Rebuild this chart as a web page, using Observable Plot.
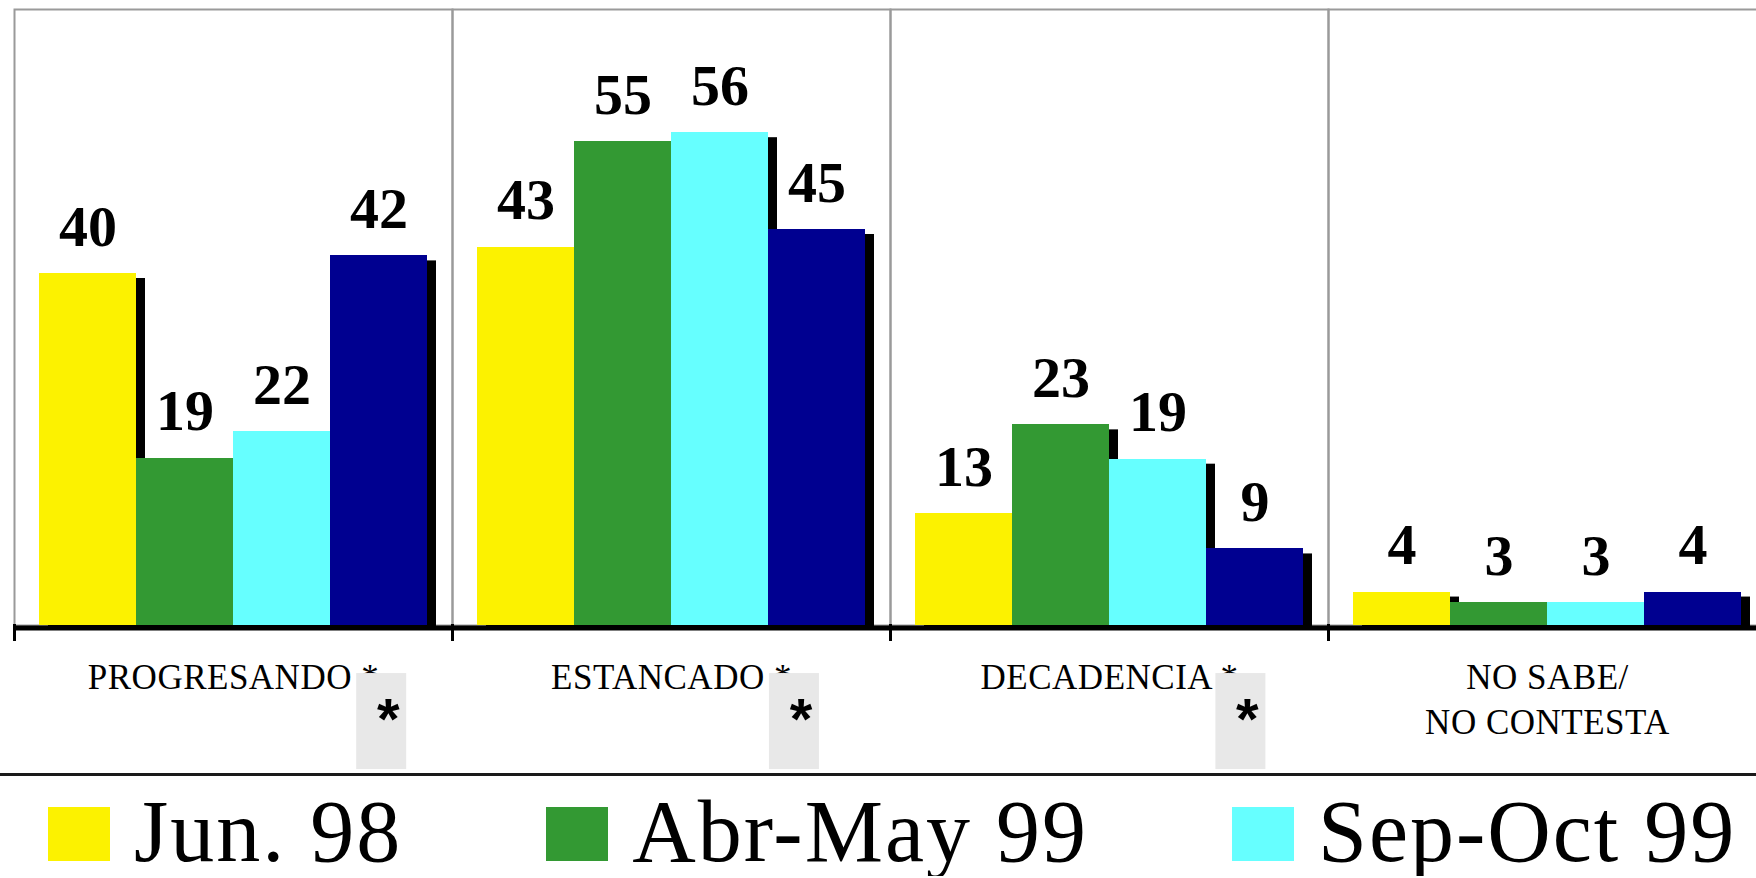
<!DOCTYPE html>
<html>
<head>
<meta charset="utf-8">
<script src="https://cdn.jsdelivr.net/npm/d3@7"></script>
<script src="https://cdn.jsdelivr.net/npm/@observablehq/plot@0.6"></script>
<style>
  html, body { margin: 0; padding: 0; background: #fff; overflow: hidden; }
  #chart { width: 1756px; overflow: hidden; }
  #chart svg { display: block; max-width: none !important; }
  #legend {
    border-top: 3px solid #1a1a1a;
    padding: 12px 0 0 48px;
    white-space: nowrap;
    font-family: "Liberation Serif", "Times New Roman", serif;
    font-size: 88px;
    line-height: 1;
    letter-spacing: 2px;
    color: #000;
  }
  .item { display: inline-block; margin-right: 144px; }
  .sw { display: inline-block; width: 62px; height: 54px; margin-right: 24px; }
</style>
</head>
<body>
<div id="chart"></div>
<div id="legend"></div>
<script>
// ---- data ----
const categories = ["PROGRESANDO", "ESTANCADO", "DECADENCIA", "NO SABE/\nNO CONTESTA"];
const starred = [true, true, true, false];
const series = ["Jun. 98", "Abr-May 99", "Sep-Oct 99", "Serie 4"];
const legendShown = ["Jun. 98", "Abr-May 99", "Sep-Oct 99"];
const seriesColors = ["#fcf200", "#339933", "#66ffff", "#000090"];
const jun98    = [40, 43, 12.7, 3.8];
const abrMay99 = [19, 55, 22.8, 2.6];
const sepOct99 = [22, 56, 18.9, 2.6];
const serie4   = [42, 45, 8.7, 3.8];

const valuesBySeries = [jun98, abrMay99, sepOct99, serie4];
const rows = [];
categories.forEach((c, i) => {
  series.forEach((s, j) => rows.push({cat: c, series: s, value: valuesBySeries[j][i]}));
});
const catLabels = categories.map((c, i) => ({cat: c, label: c + (starred[i] ? " *" : "")}));
const starredLabels = new Set(catLabels.filter((d, i) => starred[i]).map(d => d.label));
const allLabelTexts = new Set(catLabels.map(d => d.label.replace(/\n/g, "")));

const plot = Plot.plot({
  width: 1767,
  height: 773,
  marginLeft: 13,
  marginRight: 0,
  marginTop: 9,
  marginBottom: 148,
  facet: {marginTop: 0, marginBottom: 0, marginLeft: 0, marginRight: 0},
  fx: {domain: categories, padding: 0, axis: null},
  x: {domain: series, paddingInner: 0, paddingOuter: 0.24, axis: null},
  y: {domain: [0, 70], axis: null},
  color: {domain: series, range: seriesColors},
  style: {fontFamily: "Liberation Serif", background: "white", color: "black"},
  marks: [
    Plot.frame({stroke: "#9a9a9a", strokeWidth: 2}),
    Plot.barY(rows, {fx: "cat", x: "series", y: "value", fill: "black", dx: 9, dy: 5}),
    Plot.barY(rows, {fx: "cat", x: "series", y: "value", fill: "series", shapeRendering: "crispEdges"}),
    Plot.ruleY([0], {stroke: "black", strokeWidth: 5, dy: 2.5}),
    Plot.frame({anchor: "left", stroke: "black", strokeWidth: 3, insetTop: 616, insetBottom: -14}),
    Plot.text(rows, {
      fx: "cat", x: "series", y: "value",
      text: d => String(Math.round(d.value)),
      lineAnchor: "bottom", dy: -28,
      fontSize: 58, fontWeight: "bold", fontFamily: "Liberation Serif", fill: "black"
    }),
    Plot.text(catLabels, {
      fx: "cat", text: "label", frameAnchor: "bottom",
      lineAnchor: "top", lineHeight: 1.27, dy: 32,
      fontSize: 35, fontFamily: "Liberation Serif", fill: "black"
    })
  ]
});

document.getElementById("chart").appendChild(plot);

// category labels: letter spacing + gray boxes with "*"
d3.select(plot).selectAll("text").each(function () {
  const txt = this.textContent;
  if (!allLabelTexts.has(txt)) return;
  this.setAttribute("letter-spacing", "0.5");
  if (!starredLabels.has(txt)) return;
  const n = txt.length;
  const endX = this.getEndPositionOfChar(n - 1).x;
  const baseY = this.getStartPositionOfChar(0).y;
  const g = d3.select(this.parentNode).append("g");
  const tr = this.getAttribute("transform");
  if (tr) g.attr("transform", tr);
  g.append("rect")
    .attr("x", endX - 23).attr("y", baseY - 16)
    .attr("width", 50).attr("height", 96)
    .attr("fill", "#e8e8e8");
  g.append("text")
    .attr("x", endX + 9).attr("y", baseY + 50)
    .attr("text-anchor", "middle")
    .attr("font-family", "Liberation Sans")
    .attr("font-weight", "bold")
    .attr("font-size", 58)
    .attr("letter-spacing", 0)
    .attr("fill", "black")
    .text("*");
});

// legend
const color = plot.scale("color");
const legend = d3.select("#legend");
legendShown.forEach(s => {
  const it = legend.append("span").attr("class", "item");
  it.append("span").attr("class", "sw").style("background", color.apply(s));
  it.append("span").text(s);
});
</script>
</body>
</html>
